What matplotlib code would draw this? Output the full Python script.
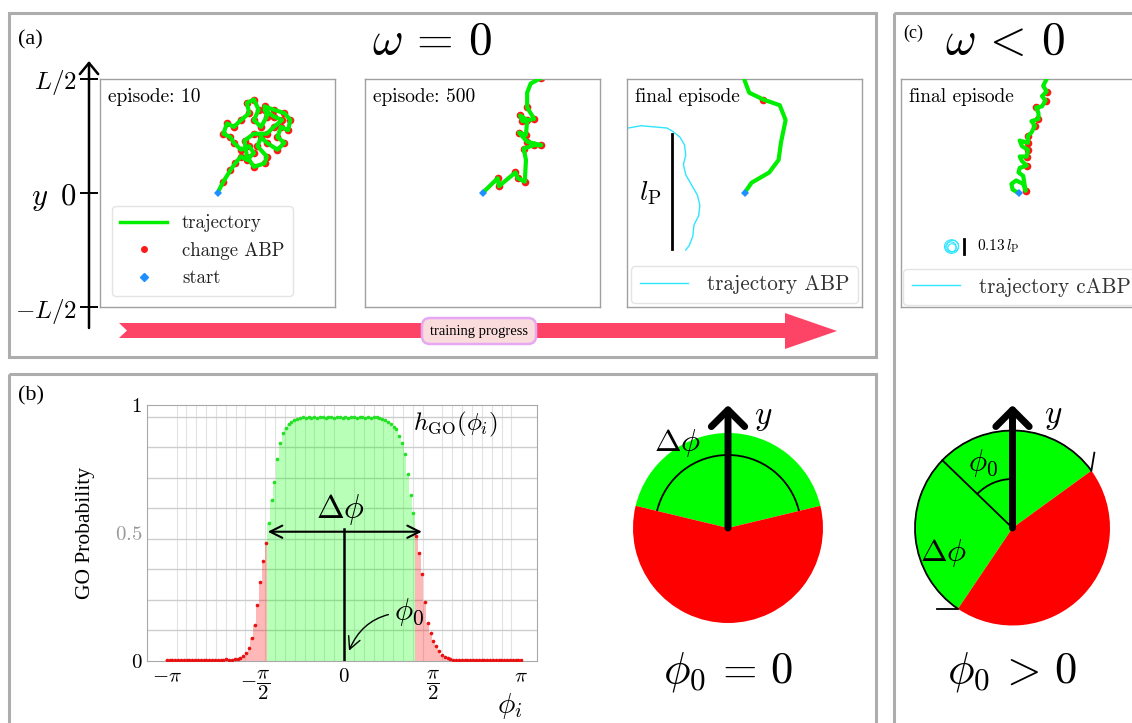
import numpy as np
import matplotlib.pyplot as plt
from matplotlib.patches import Wedge, Arc, Circle, Polygon, FancyBboxPatch, Rectangle
from matplotlib.lines import Line2D

plt.rcParams['mathtext.fontset'] = 'cm'
plt.rcParams['font.family'] = ['cmr10', 'DejaVu Serif']
plt.rcParams['axes.formatter.use_mathtext'] = True

# ---- data ---------------------------------------------------------------
# trajectories, in units of L/2, all starting at (0, 0)
ep10_x = [0.00, 0.05, 0.11, 0.15, 0.20, 0.25, 0.31, 0.27, 0.20, 0.14, 0.11, 0.05, 0.08, 0.14, 0.20,
          0.27, 0.25, 0.31, 0.35, 0.31, 0.37, 0.42, 0.40, 0.48, 0.57, 0.62, 0.60, 0.54, 0.51, 0.57,
          0.51, 0.42, 0.37, 0.34, 0.42, 0.40, 0.31, 0.25, 0.23, 0.31, 0.42, 0.48, 0.55, 0.48, 0.40]
ep10_y = [0.00, 0.10, 0.20, 0.26, 0.32, 0.29, 0.35, 0.41, 0.38, 0.44, 0.49, 0.52, 0.61, 0.58, 0.64,
          0.70, 0.79, 0.82, 0.73, 0.64, 0.58, 0.67, 0.76, 0.73, 0.70, 0.64, 0.55, 0.58, 0.49, 0.44,
          0.38, 0.44, 0.49, 0.41, 0.32, 0.26, 0.23, 0.32, 0.46, 0.52, 0.52, 0.58, 0.64, 0.67, 0.73]

ep500_x = [0.00, 0.13, 0.14, 0.28, 0.30, 0.36, 0.37, 0.35, 0.44, 0.50, 0.38, 0.31, 0.37, 0.38,
           0.32, 0.34, 0.44, 0.38, 0.38, 0.41, 0.50]
ep500_y = [0.00, 0.13, 0.06, 0.18, 0.13, 0.10, 0.29, 0.39, 0.42, 0.42, 0.45, 0.53, 0.51, 0.64,
           0.68, 0.63, 0.65, 0.75, 0.88, 0.96, 1.01]
ep500_change = [1, 2, 3, 4, 5, 7, 8, 9, 10, 11, 12, 13, 14, 15, 16, 17, 20]

final_x = [0.00, 0.06, 0.21, 0.29, 0.31, 0.35, 0.30, 0.16, 0.04, 0.00]
final_y = [0.00, 0.09, 0.18, 0.29, 0.44, 0.64, 0.77, 0.82, 0.88, 0.99]
final_change = [7]

abp_x = [-1.05, -0.99, -0.88, -0.77, -0.66, -0.61, -0.55, -0.51, -0.50, -0.52, -0.50, -0.45,
         -0.40, -0.38, -0.39, -0.43, -0.44, -0.47, -0.50]
abp_y = [0.57, 0.57, 0.59, 0.58, 0.57, 0.54, 0.49, 0.42, 0.33, 0.25, 0.16, 0.07,
         -0.02, -0.11, -0.20, -0.28, -0.38, -0.46, -0.50]
l_p = 1.01

cabp_final_x = [0.00, -0.05, -0.06, -0.02, 0.04, 0.06, 0.04, 0.00, 0.01, 0.07, 0.03, 0.01, 0.07, 0.08,
                0.03, 0.01, 0.08, 0.08, 0.11, 0.14, 0.11, 0.17, 0.17, 0.15, 0.20, 0.23, 0.20, 0.24,
                0.21, 0.24]
cabp_final_y = [0.00, 0.03, 0.08, 0.11, 0.08, 0.02, 0.15, 0.18, 0.22, 0.24, 0.28, 0.32, 0.32, 0.38,
                0.41, 0.46, 0.44, 0.50, 0.53, 0.59, 0.63, 0.65, 0.70, 0.75, 0.76, 0.81, 0.85, 0.89,
                0.94, 1.00]
cabp_change = [5, 9, 12, 13, 16, 17, 19, 21, 23, 25, 27]
cabp_loop_center = (-0.57, -0.47)
cabp_ratio = 0.13

# GO probability per heading angle bin
phi = np.linspace(-np.pi, np.pi, 126)
h_go = np.array([
    0.003, 0.004, 0.003, 0.002, 0.004, 0.003, 0.003, 0.004, 0.002, 0.003, 0.004, 0.003,
    0.003, 0.004, 0.003, 0.002, 0.004, 0.003, 0.005, 0.004, 0.003, 0.006, 0.004,
    0.005, 0.006, 0.008, 0.012, 0.020, 0.030, 0.050, 0.090, 0.140, 0.220, 0.310, 0.390,
    0.460, 0.540, 0.630, 0.700, 0.790, 0.850, 0.890, 0.910, 0.925, 0.935, 0.940, 0.945, 0.948,
    0.952, 0.950, 0.953, 0.951, 0.952, 0.950, 0.953, 0.952, 0.951, 0.953, 0.952, 0.950,
    0.952, 0.953, 0.951, 0.952, 0.950, 0.953, 0.952, 0.951, 0.952, 0.953, 0.950, 0.952,
    0.951, 0.953, 0.952,
    0.950, 0.945, 0.940, 0.935, 0.925, 0.915, 0.905, 0.880, 0.850, 0.810, 0.730, 0.650,
    0.580, 0.490, 0.420, 0.340, 0.230, 0.150, 0.110, 0.080, 0.060, 0.040, 0.025, 0.015,
    0.010, 0.007,
    0.004, 0.003, 0.005, 0.003, 0.002, 0.004, 0.003, 0.003, 0.004, 0.002, 0.003, 0.004,
    0.003, 0.003, 0.002, 0.004, 0.003, 0.003, 0.004, 0.002, 0.003, 0.003, 0.004, 0.003, 0.003])
dphi_lo, dphi_hi, dphi_level = -1.35, 1.38, 0.505

x_ticks = [-np.pi, -np.pi / 2, 0, np.pi / 2, np.pi]
x_ticklabels = [r'$-\pi$', r'$-\dfrac{\pi}{2}$', r'$0$', r'$\dfrac{\pi}{2}$', r'$\pi$']
y_ticks = [0, 0.5, 1]
y_ticklabels = [r'$0$', r'$0.5$', r'$1$']

# sector angles of the GO region (degrees, measured from the y axis)
dphi_b, phi0_b = 153, 0
dphi_c, phi0_c = 200, 46

GREEN, RED, BLUE, CYAN = '#00ee00', '#ff1a1a', '#1e8fff', '#2ee6ff'

# ---- figure -------------------------------------------------------------
W, H = 1132, 723
fig = plt.figure(figsize=(W / 100, H / 100), dpi=100)


def px_axes(x0, y0, x1, y1):
    return fig.add_axes([x0 / W, 1 - y1 / H, (x1 - x0) / W, (y1 - y0) / H])


ov = px_axes(0, 0, W, H)
ov.set_xlim(0, W)
ov.set_ylim(H, 0)
ov.axis('off')

for (x0, y0, x1, y1) in [(9, 13, 876, 357), (9, 374, 876, 740), (894, 13, 1150, 740)]:
    ov.add_patch(Rectangle((x0, y0), x1 - x0, y1 - y0, fill=False, ec='#adadad', lw=2.2))

ov.text(18, 40, '(a)', fontsize=16, family='Liberation Serif', va='center')
ov.text(18, 396, '(b)', fontsize=16, family='Liberation Serif', va='center')
ov.text(903, 33, '(c)', fontsize=13, family='Liberation Serif', va='center')
ov.text(432, 42, r'$\omega\, =\, 0$', fontsize=34, ha='center', va='center')
ov.text(1005, 42, r'$\omega\, <\, 0$', fontsize=34, ha='center', va='center')

# training progress arrow
ov.add_patch(Polygon([(119, 323), (785, 323), (785, 313), (837, 331), (785, 349), (785, 338),
                      (119, 338), (127, 330.5)], closed=True, fc='#fd4466', ec='none'))
ov.add_patch(FancyBboxPatch((425, 321), 108, 20, boxstyle='round,pad=3,rounding_size=8',
                            fc='#fbdcdc', ec='#e6a8f2', lw=1.8))
ov.text(479, 331, 'training progress', ha='center', va='center', fontsize=10.5,
        family='Liberation Serif')

# left y axis
ov.annotate('', xy=(89, 61), xytext=(89, 328),
            arrowprops=dict(arrowstyle='->,head_length=0.4,head_width=0.33', lw=1.8,
                            mutation_scale=20, shrinkA=0, shrinkB=0))
ax_y = px_axes(89, 62, 130, 327)
ax_y.set_ylim(-1.175, 1.149)
ax_y.set_xticks([])
ax_y.patch.set_visible(False)
for s in ax_y.spines.values():
    s.set_visible(False)
ax_y.set_yticks([-1, 0, 1])
ax_y.set_yticklabels([r'$-L/2$', r'$y\;\;0$', r'$L/2$'])
ax_y.tick_params(axis='y', direction='inout', length=13, width=1.4, pad=2, labelsize=18)
ax_y.get_yticklabels()[1].set_fontsize(22)


def traj_axes(x0):
    ax = px_axes(x0, 79, x0 + 235, 307)
    ax.set_xlim(-1, 1)
    ax.set_ylim(-1, 1)
    ax.set_xticks([])
    ax.set_yticks([])
    for s in ax.spines.values():
        s.set_color('#a0a0a0')
        s.set_linewidth(1)
    return ax


def draw_traj(ax, xs, ys, change):
    xs, ys = np.asarray(xs), np.asarray(ys)
    ax.plot(xs[change], ys[change], 'o', color=RED, ms=5.5, mew=0, zorder=2)
    ax.plot(xs, ys, '-', color=GREEN, lw=3, zorder=3, solid_capstyle='round',
            solid_joinstyle='round')
    ax.plot(xs[0], ys[0], 'D', color=BLUE, ms=4.5, mew=0, zorder=4)


leg_kw = dict(frameon=True, fancybox=True, edgecolor='#e4e4e4', framealpha=1,
              borderaxespad=0)

ax1 = traj_axes(100)
draw_traj(ax1, ep10_x, ep10_y, list(range(1, len(ep10_x))))
ax1.text(0.035, 0.92, 'episode: 10', transform=ax1.transAxes, fontsize=14, va='center')
h1 = [Line2D([], [], color=GREEN, lw=2.5),
      Line2D([], [], ls='none', marker='o', color=RED, ms=4),
      Line2D([], [], ls='none', marker='D', color=BLUE, ms=4)]
ax1.legend(h1, ['trajectory', 'change ABP', 'start'], loc='lower left', bbox_to_anchor=(0.05, 0.05),
           prop={'family': 'cmr10', 'size': 13.5}, handlelength=2.5, handletextpad=0.8,
           labelspacing=0.5, borderpad=0.45, labelcolor='#222222', **leg_kw)

ax2 = traj_axes(365)
draw_traj(ax2, ep500_x, ep500_y, ep500_change)
ax2.text(0.035, 0.92, 'episode: 500', transform=ax2.transAxes, fontsize=14, va='center')

ax3 = traj_axes(627)
ax3.plot(abp_x, abp_y, color=CYAN, lw=1)
draw_traj(ax3, final_x, final_y, final_change)
ax3.plot([-0.62, -0.62], [0.52, 0.52 - l_p], 'k', lw=2)
ax3.text(-0.80, 0.0, r'$l_{\mathrm{P}}$', fontsize=20, ha='center', va='center')
ax3.text(0.035, 0.92, 'final episode', transform=ax3.transAxes, fontsize=14, va='center')
ax3.legend([Line2D([], [], color=CYAN, lw=1)], ['trajectory ABP'], loc='lower center',
           bbox_to_anchor=(0.5, 0.018), prop={'family': 'cmr10', 'size': 15.2},
           handlelength=2.3, handletextpad=0.9, borderpad=0.4, labelcolor='#333333', **leg_kw)

ax4 = traj_axes(901)
draw_traj(ax4, cabp_final_x, cabp_final_y, cabp_change)
cx, cy = cabp_loop_center
for dx, dy, r in [(0, 0, 0.06), (0.01, 0.005, 0.05), (-0.005, -0.004, 0.045), (0.004, -0.01, 0.035)]:
    ax4.add_patch(Circle((cx + dx, cy + dy), r, fill=False, ec=CYAN, lw=0.8))
ax4.plot([cx + 0.11, cx + 0.11], [cy + cabp_ratio * l_p / 2, cy - cabp_ratio * l_p / 2], 'k', lw=2)
ax4.text(cx + 0.22, cy, r'$0.13\,l_{\mathrm{P}}$', fontsize=11, va='center')
ax4.text(0.035, 0.92, 'final episode', transform=ax4.transAxes, fontsize=14, va='center')
ax4.legend([Line2D([], [], color=CYAN, lw=1)], ['trajectory cABP'], loc='lower left',
           bbox_to_anchor=(0.01, 0.008), prop={'family': 'cmr10', 'size': 15.2},
           handlelength=2.3, handletextpad=0.9, borderpad=0.4, labelcolor='#333333', **leg_kw)

# ---- (b) GO probability histogram ---------------------------------------
ax_b = px_axes(147, 405, 537, 661)
ax_b.set_xlim(-3.49, 3.42)
ax_b.set_ylim(0, 1)
ax_b.set_xticks(np.arange(-18, 19) * np.pi / 18, minor=True)
ax_b.set_yticks(np.linspace(0, 0.954, 9)[1:], minor=True)
ax_b.xaxis.grid(True, which='minor', color='#e2e2e2', lw=0.8)
ax_b.yaxis.grid(True, which='minor', color='#cdcdcd', lw=1)
ax_b.set_axisbelow(True)
ax_b.set_xticks(x_ticks)
ax_b.set_xticklabels(x_ticklabels)
ax_b.set_yticks(y_ticks)
ax_b.set_yticklabels(y_ticklabels)
ax_b.tick_params(which='both', length=0, labelsize=15)
ax_b.tick_params(axis='x', pad=5)
ax_b.get_yticklabels()[1].set_color('#9a9a9a')
for s in ax_b.spines.values():
    s.set_color('#a8a8a8')

step = phi[1] - phi[0]
go = h_go >= 0.5
ax_b.bar(phi[go], h_go[go], width=step, color='#00ff00', alpha=0.28, lw=0, zorder=1)
ax_b.bar(phi[~go], h_go[~go], width=step, color='#ff0000', alpha=0.28, lw=0, zorder=1)
ax_b.plot(phi[go], h_go[go], 'o', color='#22e022', ms=2.6, mew=0, zorder=3)
ax_b.plot(phi[~go], h_go[~go], 'o', color='#e81010', ms=2.6, mew=0, zorder=3)

ax_b.annotate('', xy=(dphi_hi, dphi_level), xytext=(dphi_lo, dphi_level),
              arrowprops=dict(arrowstyle='<->', lw=1.5, mutation_scale=22, shrinkA=0, shrinkB=0))
ax_b.plot([phi0_b, phi0_b], [0, dphi_level + 0.01], 'k', lw=1.8, zorder=4)
ax_b.text(-0.07, 0.59, r'$\Delta\phi$', fontsize=24, ha='center', va='center')
ax_b.annotate(r'$\phi_0$', xy=(0.07, 0.03), xytext=(1.15, 0.19), fontsize=22, ha='center',
              va='center', arrowprops=dict(arrowstyle='->', lw=1,
                                           connectionstyle='arc3,rad=0.35', shrinkA=2))
ax_b.text(1.22, 0.925, r'$h_{\mathrm{GO}}(\phi_i)$', fontsize=18, va='center')
ax_b.text(0.93, -0.175, r'$\phi_i$', transform=ax_b.transAxes, fontsize=21, ha='center', va='center')
ax_b.set_ylabel('GO Probability', family='Liberation Serif', fontsize=15.5)
ax_b.yaxis.set_label_coords(-0.133, 0.5)


# ---- sector sketches ----------------------------------------------------
def disk_axes(x0, y0, x1, y1, cx, cy):
    ax = px_axes(x0, y0, x1, y1)
    ax.set_xlim(x0 - cx, x1 - cx)
    ax.set_ylim(cy - y1, cy - y0)
    ax.axis('off')
    return ax


def y_arrow(ax):
    ax.annotate('', xy=(0, 123), xytext=(0, 0),
                arrowprops=dict(arrowstyle='->,head_length=0.6,head_width=0.6', lw=5,
                                mutation_scale=20, shrinkA=0, shrinkB=0))


R_b = 95
axd = disk_axes(590, 385, 870, 715, 728, 528)
t1, t2 = 90 + phi0_b - dphi_b / 2, 90 + phi0_b + dphi_b / 2
axd.add_patch(Wedge((0, 0), R_b, t1, t2, fc='#00ff00', ec='none'))
axd.add_patch(Wedge((0, 0), R_b, t2, t1 + 360, fc='#ff0000', ec='none'))
axd.add_patch(Arc((0, 0), 146, 146, theta1=t1, theta2=t2, lw=1.3, color='k'))
y_arrow(axd)
axd.text(35, 110, r'$y$', fontsize=24, ha='center', va='center')
axd.text(-51, 85, r'$\Delta\phi$', fontsize=23, ha='center', va='center')
axd.text(0, -144, r'$\phi_0\, =\, 0$', fontsize=32, ha='center', va='center')

R_c = 97.5
axc = disk_axes(900, 385, 1132, 715, 1012.5, 528)
t1, t2 = 90 + phi0_c - dphi_c / 2, 90 + phi0_c + dphi_c / 2
axc.add_patch(Wedge((0, 0), R_c, t1, t2, fc='#00ff00', ec='none'))
axc.add_patch(Wedge((0, 0), R_c, t2, t1 + 360, fc='#ff0000', ec='none'))
axc.add_patch(Arc((0, 0), 2 * R_c, 2 * R_c, theta1=t1, theta2=t2, lw=1.3, color='k'))
a0 = np.deg2rad(90 + phi0_c)
axc.plot([0, R_c * np.cos(a0)], [0, R_c * np.sin(a0)], 'k', lw=1.3)
axc.add_patch(Arc((0, 0), 98, 98, theta1=90, theta2=90 + phi0_c, lw=1.3, color='k'))
p1 = R_c * np.cos(np.deg2rad(t1)), R_c * np.sin(np.deg2rad(t1))
p2 = R_c * np.cos(np.deg2rad(t2)), R_c * np.sin(np.deg2rad(t2))
axc.plot([p1[0], p1[0] + 3], [p1[1], p1[1] + 18], 'k', lw=1.3)
axc.plot([p2[0], p2[0] - 21], [p2[1], p2[1]], 'k', lw=1.3)
y_arrow(axc)
axc.text(41, 111, r'$y$', fontsize=24, ha='center', va='center')
axc.text(-29, 65, r'$\phi_0$', fontsize=22, ha='center', va='center')
axc.text(-69, -25, r'$\Delta\phi$', fontsize=23, ha='center', va='center')
axc.text(0, -144, r'$\phi_0\, >\, 0$', fontsize=32, ha='center', va='center')

fig.savefig('out.png', dpi=100)
